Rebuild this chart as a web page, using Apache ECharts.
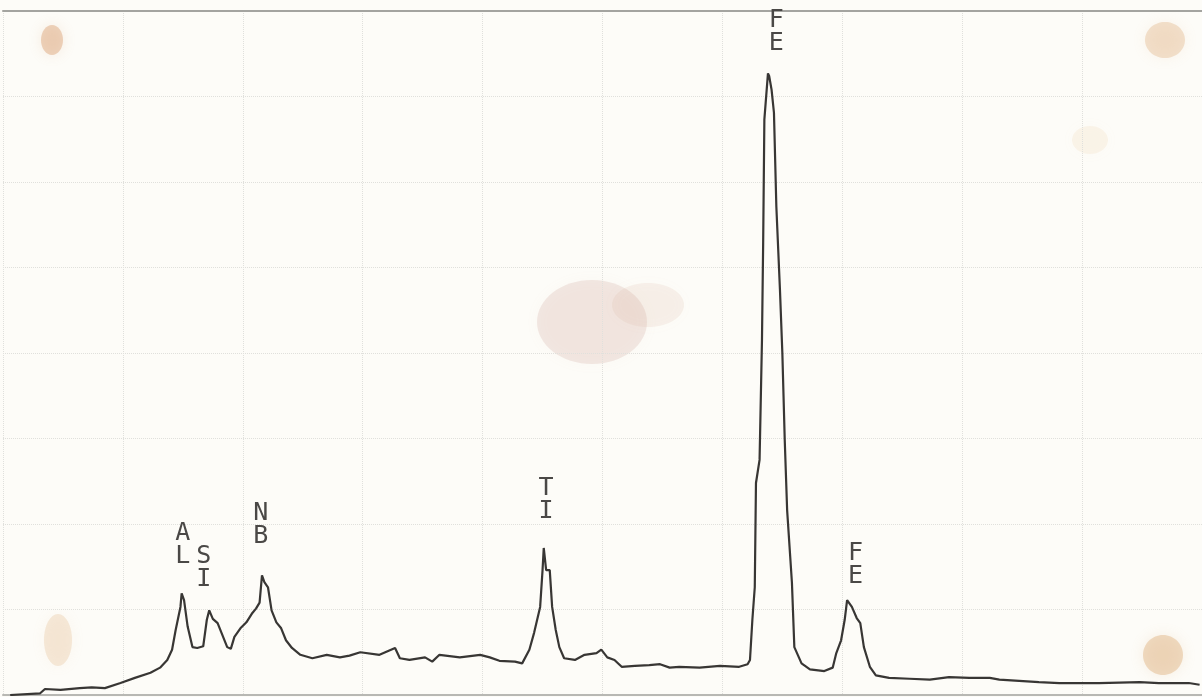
<!DOCTYPE html>
<html>
<head>
<meta charset="utf-8">
<title>EDS spectrum</title>
<script src="https://cdn.jsdelivr.net/npm/echarts@6/dist/echarts.min.js"></script>
<style>
  html, body { margin: 0; padding: 0; background: #fdfcf8; }
  #spectrum { width: 1202px; height: 697px; }
</style>
</head>
<body>
<div id="spectrum"></div>
<script>
// energy in keV, counts in chart divisions x100
var energy = [0.06, 0.31, 0.35, 0.48, 0.64, 0.74, 0.85, 0.98, 1.10, 1.23, 1.31, 1.37, 1.41, 1.44, 1.48, 1.49,
  1.51, 1.54, 1.58, 1.62, 1.67, 1.70, 1.72, 1.75, 1.79, 1.83, 1.87, 1.90, 1.93, 1.98, 2.03, 2.08,
  2.11, 2.14, 2.16, 2.18, 2.21, 2.24, 2.28, 2.32, 2.36, 2.41, 2.48, 2.58, 2.70, 2.81, 2.89, 2.98,
  3.14, 3.27, 3.31, 3.39, 3.52, 3.58, 3.64, 3.81, 3.98, 4.06, 4.14, 4.27, 4.33, 4.39, 4.43, 4.48,
  4.50, 4.51, 4.53, 4.56, 4.58, 4.61, 4.64, 4.68, 4.77, 4.85, 4.95, 4.99, 5.04, 5.10, 5.16, 5.27,
  5.39, 5.48, 5.56, 5.64, 5.81, 5.98, 6.14, 6.21, 6.23, 6.25, 6.27, 6.28, 6.31, 6.33, 6.34, 6.35,
  6.38, 6.39, 6.41, 6.43, 6.45, 6.48, 6.50, 6.52, 6.54, 6.58, 6.60, 6.66, 6.73, 6.85, 6.92, 6.95,
  6.99, 7.02, 7.04, 7.08, 7.12, 7.15, 7.18, 7.23, 7.28, 7.39, 7.56, 7.73, 7.89, 8.06, 8.23, 8.31,
  8.64, 8.81, 9.14, 9.48, 9.64, 9.89, 9.98];
var counts = [0, 2, 7, 6, 8, 9, 8, 14, 20, 26, 32, 41, 53, 76, 103, 119,
  111, 80, 56, 55, 57, 88, 99, 89, 84, 70, 56, 54, 68, 78, 85, 96,
  101, 108, 140, 132, 126, 99, 85, 78, 64, 55, 47, 43, 47, 44, 46, 50,
  47, 55, 43, 41, 44, 39, 47, 44, 47, 44, 40, 39, 37, 53, 73, 103,
  146, 172, 146, 146, 103, 76, 56, 43, 41, 47, 49, 53, 44, 41, 33, 34,
  35, 36, 32, 33, 32, 34, 33, 36, 41, 88, 126, 248, 275, 415, 529, 673,
  727, 724, 708, 681, 571, 474, 400, 298, 216, 131, 56, 37, 30, 28, 32, 49,
  64, 88, 111, 103, 90, 84, 56, 33, 23, 20, 19, 18, 21, 20, 20, 18,
  15, 14, 14, 15, 14, 14, 12];

// peak identifications written by the plotter
var peakNames = ['A\nL', 'S\nI', 'N\nB', 'T\nI', 'F\nE', 'F\nE'];
var peakEnergy = [1.50, 1.675, 2.15, 4.53, 6.45, 7.11];
var peakLabelLevel = [175, 148, 199, 228, 775, 152];

var trace = energy.map(function (e, i) { return [e, counts[i]]; });
var marks = peakNames.map(function (n, i) {
  return { name: n, coord: [peakEnergy[i], peakLabelLevel[i]] };
});

function stain(cx, cy, rx, ry, fill) {
  return {
    type: 'ellipse', silent: true, z: -1,
    shape: { cx: cx, cy: cy, rx: rx, ry: ry },
    style: { fill: fill, shadowBlur: 14, shadowColor: fill }
  };
}

var chart = echarts.init(document.getElementById('spectrum'));
var option = {
  backgroundColor: '#fdfcf8',
  animation: false,
  grid: { left: 3, right: -1, top: 11, bottom: 2 },
  graphic: [
    // paper stains
    stain(52, 40, 11, 15, 'rgba(214,150,100,0.40)'),
    stain(1165, 40, 20, 18, 'rgba(224,175,125,0.35)'),
    stain(1090, 140, 18, 14, 'rgba(240,215,175,0.20)'),
    stain(592, 322, 55, 42, 'rgba(205,160,150,0.22)'),
    stain(648, 305, 36, 22, 'rgba(215,180,160,0.16)'),
    stain(58, 640, 14, 26, 'rgba(230,190,145,0.30)'),
    stain(1163, 655, 20, 20, 'rgba(220,170,115,0.40)')
  ],
  xAxis: [
    {
      type: 'value', min: 0, max: 10, interval: 1,
      axisLine: { show: true, lineStyle: { color: '#b8b8b4', width: 2 } },
      axisTick: { show: false },
      axisLabel: { show: false },
      splitLine: { show: true, lineStyle: { color: '#e0e0dc', type: 'dotted', width: 1 } }
    },
    {
      type: 'value', min: 0, max: 10, position: 'top',
      axisLine: { show: true, lineStyle: { color: '#a4a4a0', width: 2 } },
      axisTick: { show: false },
      axisLabel: { show: false },
      splitLine: { show: false }
    }
  ],
  yAxis: {
    type: 'value', min: 0, max: 800, interval: 100,
    axisLine: { show: false },
    axisTick: { show: false },
    axisLabel: { show: false },
    splitLine: { show: true, lineStyle: { color: '#e0e0dc', type: 'dotted', width: 1 } }
  },
  series: [
    {
      type: 'line',
      data: trace,
      showSymbol: false,
      smooth: false,
      lineStyle: { color: '#383634', width: 2.2 },
      markPoint: {
        symbol: 'rect',
        symbolSize: 1,
        itemStyle: { color: 'transparent' },
        label: {
          show: true,
          position: 'inside',
          formatter: '{b}',
          color: '#4a4846',
          fontFamily: 'DejaVu Sans Mono',
          fontSize: 25,
          lineHeight: 23
        },
        data: marks
      }
    }
  ]
};
chart.setOption(option);
</script>
</body>
</html>
